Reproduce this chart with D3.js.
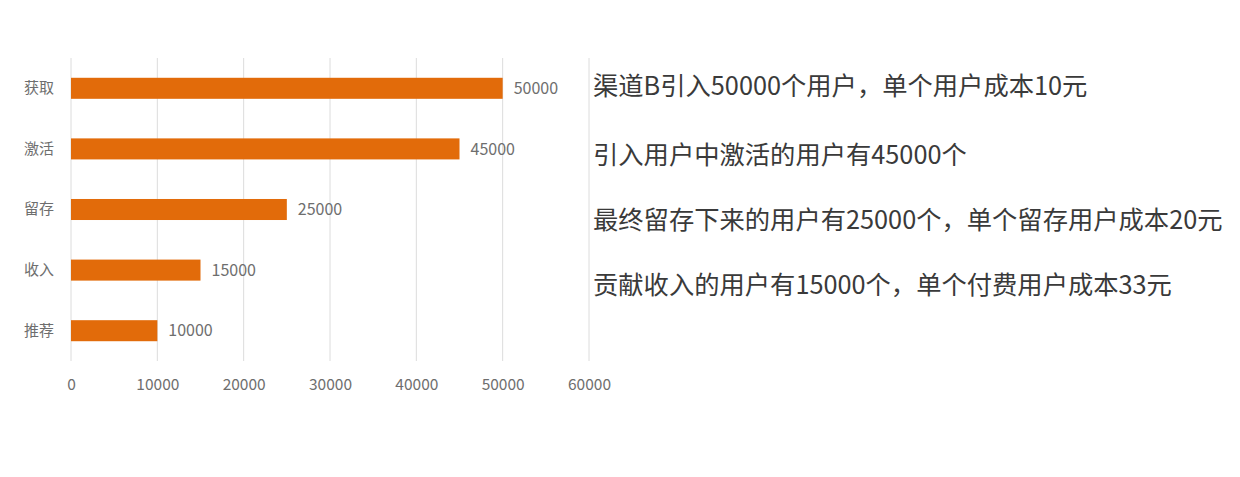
<!DOCTYPE html>
<html>
<head>
<meta charset="utf-8">
<script src="https://cdn.jsdelivr.net/npm/d3@7"></script>
<style>
  html, body { margin: 0; padding: 0; background: #fff; }
</style>
</head>
<body>
<div id="chart"></div>
<script>
// funnel stages and counts
const STAGES = ["获取", "激活", "留存", "收入", "推荐"];
const COUNTS = [50000, 45000, 25000, 15000, 10000];
const X_TICKS = [0, 10000, 20000, 30000, 40000, 50000, 60000];

// notes on the right side
const NOTES = [
    "渠道B引入50000个用户，单个用户成本10元",
    "引入用户中激活的用户有45000个",
    "最终留存下来的用户有25000个，单个留存用户成本20元",
    "贡献收入的用户有15000个，单个付费用户成本33元"
];

const W = 1240, H = 477;
const margin = { top: 58, left: 71 };
const plotW = 518, plotH = 303;
const noteX = 593;
const noteY = [86, 155, 220, 285];

const cjk = "'Noto Sans CJK SC', 'Noto Sans', sans-serif";

const svg = d3.select("#chart").append("svg")
    .attr("width", W)
    .attr("height", H)
    .style("display", "block");

const g = svg.append("g")
    .attr("transform", `translate(${margin.left},${margin.top})`);

// ── Scales ────────────────────────────────────────────
const x = d3.scaleLinear().domain([0, 60000]).range([0, plotW]);
const y = d3.scaleBand().domain(STAGES).range([0, plotH])
    .paddingInner(0.653).paddingOuter(0.3265);

// ── Gridlines ─────────────────────────────────────────
g.append("g")
    .selectAll("line")
    .data(X_TICKS)
    .join("line")
    .attr("x1", d => x(d)).attr("x2", d => x(d))
    .attr("y1", 0).attr("y2", plotH)
    .style("stroke", "#dcdcdc")
    .style("stroke-width", 1);

// ── X axis ────────────────────────────────────────────
const xAxis = g.append("g")
    .attr("transform", `translate(0,${plotH})`)
    .call(d3.axisBottom(x).tickValues(X_TICKS).tickSize(0).tickPadding(18).tickFormat(d => d));
xAxis.select(".domain").remove();
xAxis.selectAll("text")
    .style("font-family", cjk)
    .style("font-size", "15.5px")
    .style("fill", "#6e6e6e");

// ── Y axis ────────────────────────────────────────────
const yAxis = g.append("g")
    .call(d3.axisLeft(y).tickSize(0).tickPadding(17));
yAxis.select(".domain").remove();
yAxis.selectAll("text")
    .style("font-family", cjk)
    .style("font-size", "15px")
    .style("fill", "#6e6e6e");

// ── Bars ──────────────────────────────────────────────
const rows = STAGES.map((s, i) => ({ stage: s, value: COUNTS[i] }));

g.selectAll(".bar")
    .data(rows)
    .join("rect")
    .attr("class", "bar")
    .attr("x", x(0))
    .attr("y", d => y(d.stage))
    .attr("width", d => x(d.value) - x(0))
    .attr("height", y.bandwidth())
    .style("fill", "#e26b0a");

// value labels
g.selectAll(".val")
    .data(rows)
    .join("text")
    .attr("class", "val")
    .attr("x", d => x(d.value) + 11)
    .attr("y", d => y(d.stage) + y.bandwidth() / 2)
    .attr("dy", "0.35em")
    .style("font-family", cjk)
    .style("font-size", "16px")
    .style("fill", "#6e6e6e")
    .text(d => d.value);

// ── Notes ─────────────────────────────────────────────
svg.append("g")
    .selectAll("text")
    .data(NOTES)
    .join("text")
    .attr("x", noteX)
    .attr("y", (d, i) => noteY[i])
    .attr("dy", "0.35em")
    .style("font-family", cjk)
    .style("font-size", "25.3px")
    .style("fill", "#3a3a3a")
    .text(d => d);
</script>
</body>
</html>
